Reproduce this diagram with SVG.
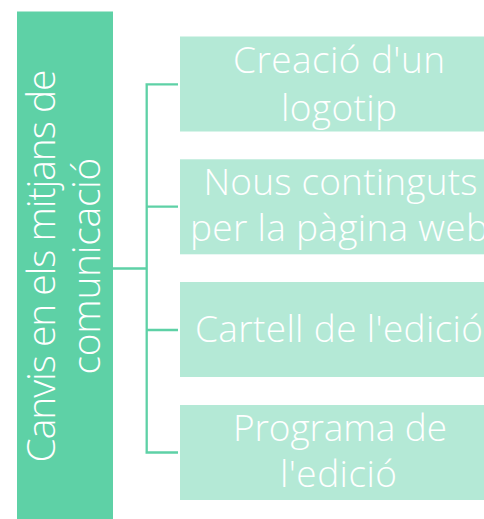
<svg xmlns="http://www.w3.org/2000/svg" width="484" height="519" viewBox="0 0 484 519">
<style>
.main{fill:#5ED1A6}
.box{fill:#B4E9D6}
.conn{stroke:#5ED1A6;stroke-width:2.3;fill:none}
.t{font-family:"Open Sans","Liberation Sans",sans-serif;font-weight:300;fill:#FFFFFF;text-anchor:middle}
.big{font-size:37px}
.left{font-size:39px}
</style>
<rect width="484" height="519" fill="#FFFFFF"/>
<g id="connectors">
<path class="conn" d="M113 268.5 H146.7 M146.7 84.3 V452.5 M145.5 84.3 H178 M146.7 206.7 H178 M146.7 330 H178 M145.5 452.5 H178"/>
</g>
<g id="root">
<rect class="main" x="17" y="11.5" width="96" height="508"/>
<g transform="translate(0,266) rotate(-90)">
<text class="t left" x="0" y="55" textLength="393">Canvis en els mitjans de</text>
<text class="t left" x="0" y="100" textLength="217">comunicació</text>
</g>
</g>
<g id="n1">
<rect class="box" x="180" y="36.5" width="318" height="95"/>
<text class="t big" x="339" y="72.7" textLength="212">Creació d'un</text>
<text class="t big" x="339" y="120.5" textLength="116">logotip</text>
</g>
<g id="n2">
<rect class="box" x="180" y="159.3" width="318" height="95"/>
<text class="t big" x="340.5" y="195" textLength="274">Nous continguts</text>
<text class="t big" x="339" y="241" textLength="298">per la pàgina web</text>
</g>
<g id="n3">
<rect class="box" x="180" y="282" width="318" height="95"/>
<text class="t big" x="339" y="341.7" textLength="288">Cartell de l'edició</text>
</g>
<g id="n4">
<rect class="box" x="180" y="405" width="318" height="95"/>
<text class="t big" x="340" y="440.7" textLength="214">Programa de</text>
<text class="t big" x="338.5" y="487" textLength="117">l'edició</text>
</g>
</svg>
